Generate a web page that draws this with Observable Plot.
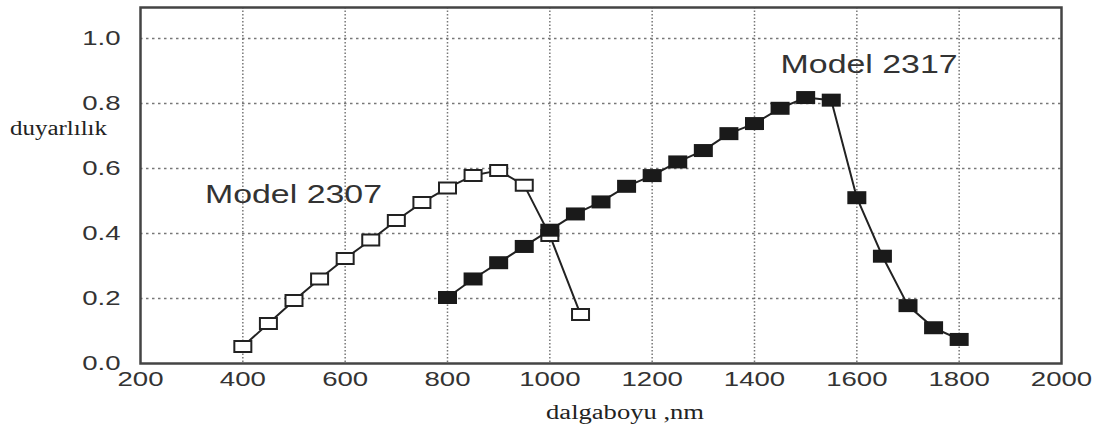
<!DOCTYPE html>
<html>
<head>
<meta charset="utf-8">
<script src="https://cdn.jsdelivr.net/npm/d3@7"></script>
<script src="https://cdn.jsdelivr.net/npm/@observablehq/plot@0.6"></script>
<style>
  html, body { margin: 0; padding: 0; background: #fff; }
</style>
</head>
<body>
<div id="chart"></div>
<script>
// Model 2307 (open squares)
const wl2307 = [400, 450, 500, 550, 600, 650, 700, 750, 800, 850, 900, 950, 1000, 1060];
const val2307 = [0.052, 0.123, 0.194, 0.26, 0.323, 0.38, 0.44, 0.495, 0.54, 0.578, 0.594, 0.548, 0.394, 0.151];
// Model 2317 (filled squares)
const wl2317 = [800, 850, 900, 950, 1000, 1050, 1100, 1150, 1200, 1250, 1300, 1350, 1400, 1450, 1500, 1550, 1600, 1650, 1700, 1750, 1800];
const val2317 = [0.203, 0.26, 0.31, 0.36, 0.41, 0.46, 0.497, 0.545, 0.578, 0.62, 0.655, 0.707, 0.738, 0.785, 0.818, 0.81, 0.51, 0.33, 0.178, 0.11, 0.074];

const xTicks = [200, 400, 600, 800, 1000, 1200, 1400, 1600, 1800, 2000];
const yTicks = [0.0, 0.2, 0.4, 0.6, 0.8, 1.0];
const xGrid = [400, 600, 800, 1000, 1200, 1400, 1600, 1800];
const yGrid = [0.2, 0.4, 0.6, 0.8, 1.0];

const seriesLabels = [
  {name: "Model 2307", x: 499, y: 0.517},
  {name: "Model 2317", x: 1624, y: 0.918}
];
const yTitle = "duyarlılık";
const xTitle = "dalgaboyu ,nm";

const d2307 = wl2307.map((x, i) => ({x, y: val2307[i]}));
const d2317 = wl2317.map((x, i) => ({x, y: val2317[i]}));

const rectSymbol = (w, h) => ({
  draw(ctx) {
    ctx.moveTo(-w / 2, -h / 2);
    ctx.lineTo(w / 2, -h / 2);
    ctx.lineTo(w / 2, h / 2);
    ctx.lineTo(-w / 2, h / 2);
    ctx.closePath();
  }
});

const chart = Plot.plot({
  width: 1101,
  height: 435,
  marginLeft: 140,
  marginRight: 40,
  marginTop: 7,
  marginBottom: 72,
  style: {fontFamily: "'Liberation Sans', Arial, sans-serif", fontSize: "20px", color: "#333", background: "#fff"},
  x: {domain: [200, 2000], ticks: xTicks, tickFormat: d3.format("d"), tickSize: 0, tickPadding: 8, label: null},
  y: {domain: [0, 1.095], ticks: yTicks, tickFormat: d3.format(".1f"), tickSize: 0, tickPadding: 20, label: null},
  marks: [
    Plot.ruleX(xGrid, {stroke: "#777", strokeWidth: 1.5, strokeDasharray: "1.5,2"}),
    Plot.ruleY(yGrid, {stroke: "#777", strokeWidth: 1.5, strokeDasharray: "2.5,3.5"}),
    Plot.frame({stroke: "#444", strokeWidth: 2.5}),
    Plot.line(d2307, {x: "x", y: "y", stroke: "#222", strokeWidth: 2}),
    Plot.dot(d2307, {x: "x", y: "y", symbol: rectSymbol(17, 11), fill: "#fff", stroke: "#222", strokeWidth: 2}),
    Plot.line(d2317, {x: "x", y: "y", stroke: "#222", strokeWidth: 2}),
    Plot.dot(d2317, {x: "x", y: "y", symbol: rectSymbol(19, 13), fill: "#1a1a1a", stroke: "none"}),
    Plot.text(seriesLabels, {x: "x", y: "y", text: "name", fontSize: 25, fill: "#333", textAnchor: "middle"}),
    Plot.text([yTitle], {frameAnchor: "left", y: 0.723, dx: -82, text: d => d, textAnchor: "middle",
      fontFamily: "'Liberation Serif', 'Times New Roman', serif", fontSize: 20, fill: "#222"}),
    Plot.text([xTitle], {frameAnchor: "bottom", x: 1147, dy: 55, text: d => d, textAnchor: "middle",
      fontFamily: "'Liberation Serif', 'Times New Roman', serif", fontSize: 20, fill: "#222"})
  ]
});
document.getElementById("chart").appendChild(chart);

// horizontally stretch texts to match the reference aspect
d3.select(chart).selectAll("text").each(function() {
  const t = this.textContent.trim();
  let len = null;
  if (/^[\d.]+$/.test(t)) len = this.getComputedTextLength() * 1.38;
  else if (t.startsWith("Model")) len = 177;
  else if (t === yTitle) len = 97;
  else if (t === xTitle) len = 158;
  if (len) {
    this.setAttribute("textLength", len);
    this.setAttribute("lengthAdjust", "spacingAndGlyphs");
  }
});
</script>
</body>
</html>
